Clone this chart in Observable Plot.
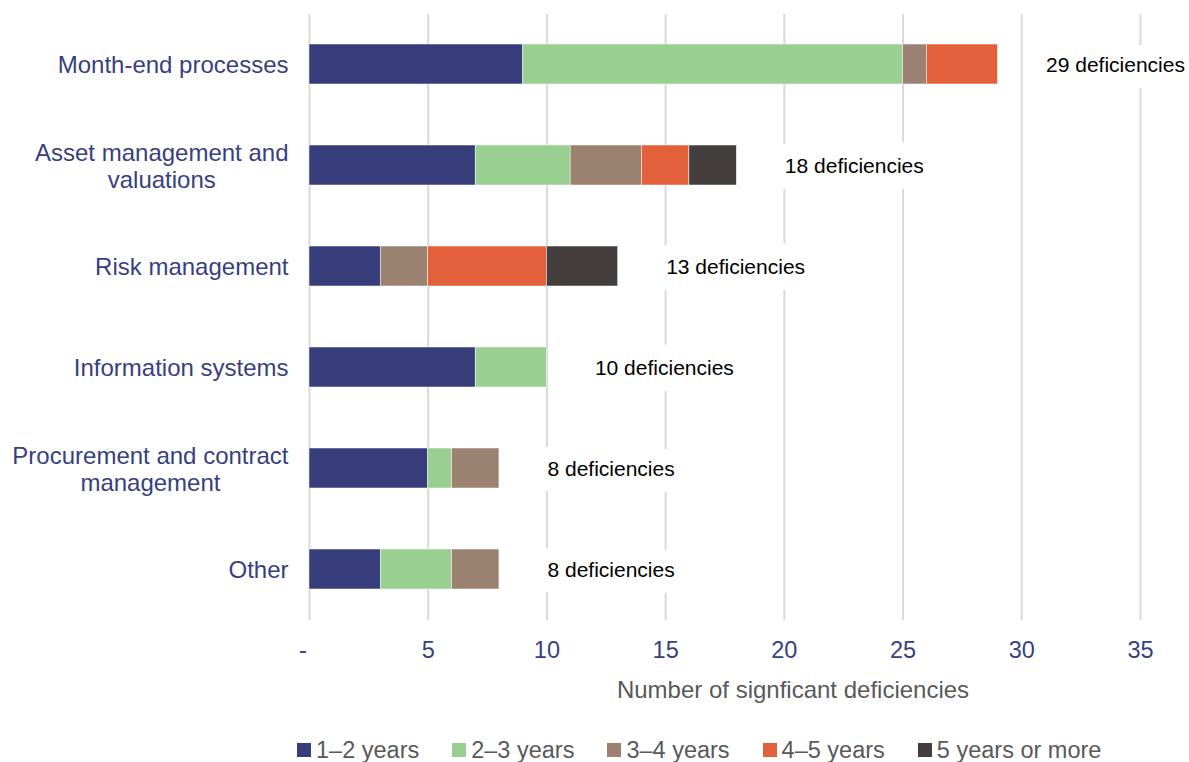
<!DOCTYPE html>
<html>
<head>
<meta charset="utf-8">
<script src="https://cdn.jsdelivr.net/npm/d3@7"></script>
<script src="https://cdn.jsdelivr.net/npm/@observablehq/plot@0.6"></script>
<style>
  body { margin: 0; background: #fff; font-family: "Liberation Sans", Arial, sans-serif; }
  #legend { display: flex; align-items: center; margin-left: 297px; margin-top: 23px; height: 24px;
            font-size: 23.5px; color: #595959; white-space: nowrap; }
  #legend .item { display: flex; align-items: center; margin-right: 33px; }
  #legend .sw { width: 14px; height: 14px; margin-right: 5px; }
</style>
</head>
<body>
<div id="chart"></div>
<div id="legend"></div>
<script>
// Categories of significant deficiencies (top to bottom)
const categories = [
  "Month-end processes",
  "Asset management and\nvaluations",
  "Risk management",
  "Information systems",
  "Procurement and contract\nmanagement",
  "Other"
];

// How long each deficiency has been unresolved
const series = ["1–2 years", "2–3 years", "3–4 years", "4–5 years", "5 years or more"];
const colors = ["#363d7a", "#99d091", "#9b8270", "#e2603a", "#443e3e"];

// Counts per category, one array per age band
const years1to2 = [9, 7, 3, 7, 5, 3];
const years2to3 = [16, 4, 0, 3, 1, 3];
const years3to4 = [1, 3, 2, 0, 2, 2];
const years4to5 = [3, 2, 5, 0, 0, 0];
const years5plus = [0, 2, 3, 0, 0, 0];

const xTicks = [0, 5, 10, 15, 20, 25, 30, 35];

const seriesValues = [years1to2, years2to3, years3to4, years4to5, years5plus];
const rows = [];
series.forEach((s, si) => {
  categories.forEach((c, ci) => {
    rows.push({category: c, series: s, value: seriesValues[si][ci]});
  });
});
const totals = categories.map((c, ci) => ({
  category: c,
  total: d3.sum(seriesValues, v => v[ci])
}));

const navy = "#383f7e";

const chart = Plot.plot({
  width: 1189,
  height: 715,
  marginLeft: 309,
  marginRight: 49,
  marginTop: 14,
  marginBottom: 95,
  style: {fontFamily: "'Liberation Sans', Arial, sans-serif", background: "#fff"},
  x: {domain: [0, 35]},
  y: {domain: categories, paddingInner: 0.6, paddingOuter: 0.3, label: null},
  color: {domain: series, range: colors},
  marks: [
    Plot.gridX(xTicks, {stroke: "#d9d9d9", strokeOpacity: 1, strokeWidth: 2}),
    Plot.barX(rows, {
      x: "value", y: "category", fill: "series",
      order: series, stroke: "white", strokeWidth: 0.5
    }),
    Plot.text(totals, {
      x: "total", y: "category",
      text: d => `${d.total} deficiencies`,
      textAnchor: "start", dx: 48, dy: 1,
      fontSize: 21, fill: "#000",
      stroke: "white", strokeWidth: 32, strokeLinejoin: "round"
    }),
    Plot.axisX(xTicks, {
      tickSize: 0, tickPadding: 21, fontSize: 23.5, fill: navy,
      tickFormat: d => d === 0 ? "-\u00a0\u00a0" : String(d),
      label: null
    }),
    Plot.axisY({
      tickSize: 0, tickPadding: 21, fontSize: 24, fill: navy,
      lineHeight: 1.13, label: null
    }),
    Plot.text(["Number of signficant deficiencies"], {
      frameAnchor: "bottom", dy: 77, dx: 68,
      fontSize: 24, fill: "#595959"
    })
  ]
});

document.getElementById("chart").appendChild(chart);

// Center the lines of wrapped category labels within their right-aligned block
d3.select(chart).selectAll("g[aria-label='y-axis tick label'] text").each(function () {
  const tspans = this.querySelectorAll("tspan");
  if (tspans.length < 2) return;
  let w = 0;
  tspans.forEach(t => { w = Math.max(w, t.getComputedTextLength()); });
  this.setAttribute("text-anchor", "middle");
  tspans.forEach(t => t.setAttribute("x", -w / 2));
});

// Legend
const legend = d3.select("#legend");
series.forEach((s, i) => {
  const item = legend.append("div").attr("class", "item");
  item.append("div").attr("class", "sw").style("background", colors[i]);
  item.append("span").text(s);
});
</script>
</body>
</html>
